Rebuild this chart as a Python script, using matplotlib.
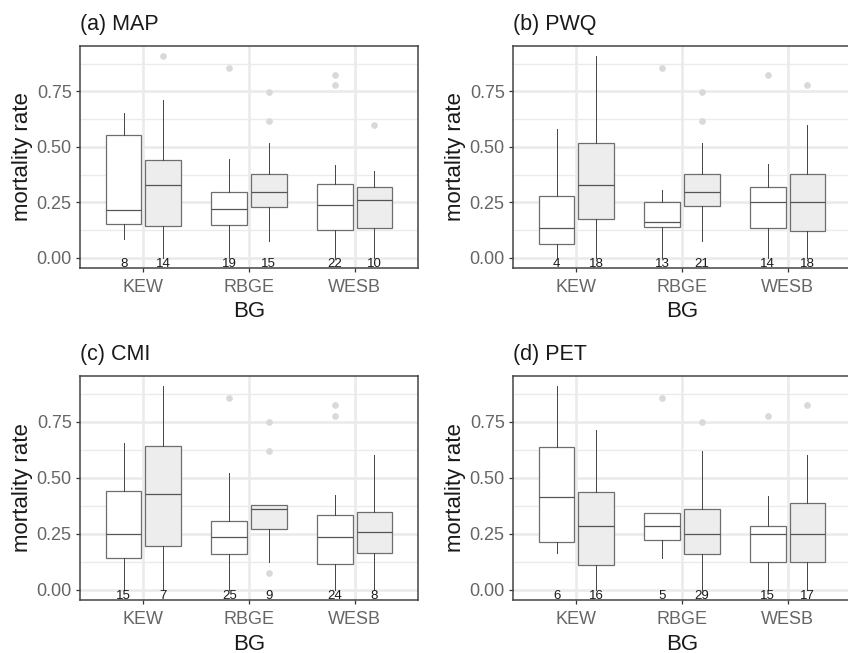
#!/usr/bin/env python3
"""
Mortality rate by botanic garden, four climate variables, boxplots.
"""

import matplotlib
matplotlib.use('Agg')
import matplotlib.pyplot as plt
from matplotlib.ticker import MultipleLocator, FixedLocator

plt.rcParams['font.family'] = ['Liberation Sans', 'DejaVu Sans']

bg_names = ['KEW', 'RBGE', 'WESB']
panel_titles = ['(a) MAP', '(b) PWQ', '(c) CMI', '(d) PET']

# five-number summaries per BG: (lower whisker, Q1, median, Q3, upper whisker)
# "white" = first group (unfilled box), "grey" = second group (filled box)
map_white = [(0.086, 0.155, 0.214, 0.554, 0.655),
             (0.000, 0.150, 0.220, 0.296, 0.445),
             (0.000, 0.124, 0.238, 0.332, 0.418)]
map_grey = [(0.000, 0.144, 0.327, 0.440, 0.713),
            (0.077, 0.229, 0.299, 0.376, 0.519),
            (0.000, 0.137, 0.260, 0.318, 0.390)]
map_white_out = [[], [0.857], [0.824, 0.778]]
map_grey_out = [[0.909], [0.749, 0.619], [0.600]]
map_white_n = [8, 19, 22]
map_grey_n = [14, 15, 10]

pwq_white = [(0.000, 0.064, 0.134, 0.281, 0.583),
             (0.000, 0.138, 0.162, 0.250, 0.307),
             (0.000, 0.134, 0.251, 0.320, 0.421)]
pwq_grey = [(0.000, 0.176, 0.329, 0.519, 0.909),
            (0.077, 0.234, 0.299, 0.378, 0.519),
            (0.000, 0.122, 0.250, 0.376, 0.601)]
pwq_white_out = [[], [0.857], [0.824]]
pwq_grey_out = [[], [0.749, 0.619], [0.778]]
pwq_white_n = [4, 13, 14]
pwq_grey_n = [18, 21, 18]

cmi_white = [(0.000, 0.143, 0.249, 0.440, 0.655),
             (0.000, 0.160, 0.234, 0.307, 0.523),
             (0.000, 0.116, 0.237, 0.332, 0.422)]
cmi_grey = [(0.000, 0.197, 0.429, 0.643, 0.909),
            (0.125, 0.271, 0.359, 0.380, 0.380),
            (0.000, 0.166, 0.259, 0.346, 0.601)]
cmi_white_out = [[], [0.857], [0.824, 0.778]]
cmi_grey_out = [[], [0.750, 0.619, 0.076], []]
cmi_white_n = [15, 25, 24]
cmi_grey_n = [7, 9, 8]

pet_white = [(0.164, 0.212, 0.416, 0.637, 0.909),
             (0.142, 0.221, 0.286, 0.343, 0.343),
             (0.000, 0.125, 0.249, 0.285, 0.417)]
pet_grey = [(0.000, 0.113, 0.285, 0.437, 0.713),
            (0.000, 0.160, 0.249, 0.359, 0.619),
            (0.000, 0.124, 0.249, 0.388, 0.601)]
pet_white_out = [[], [0.857], [0.778]]
pet_grey_out = [[], [0.750], [0.824]]
pet_white_n = [6, 5, 15]
pet_grey_n = [16, 29, 17]

GRID = '#ebebeb'
DODGE = 0.1875
BOX_W = 0.3375


def make_stats(summaries, outliers):
    stats = []
    for (lo, q1, med, q3, hi), fl in zip(summaries, outliers):
        stats.append(dict(whislo=lo, q1=q1, med=med, q3=q3, whishi=hi, fliers=fl))
    return stats


def draw_panel(ax, title, white, grey, white_out, grey_out, white_n, grey_n):
    pos = list(range(1, len(bg_names) + 1))
    for summ, outs, ns, off, fill in [(white, white_out, white_n, -DODGE, 'white'),
                                      (grey, grey_out, grey_n, DODGE, '#ededed')]:
        p = [x + off for x in pos]
        ax.bxp(make_stats(summ, outs), positions=p, widths=BOX_W,
               showcaps=False, patch_artist=True, manage_ticks=False,
               boxprops=dict(facecolor=fill, edgecolor='#6e6e6e', linewidth=0.9),
               medianprops=dict(color='#555555', linewidth=0.9),
               whiskerprops=dict(color='#444444', linewidth=0.7),
               flierprops=dict(marker='o', markersize=3.8, markerfacecolor='#d9d9d9',
                               markeredgecolor='#d9d9d9', linestyle='none'))
        for x, n in zip(p, ns):
            ax.text(x, 0.0, str(n), ha='center', va='top', fontsize=9.5, color='#1a1a1a')

    ax.set_xlim(0.4, 3.6)
    ax.set_ylim(-0.0455, 0.955)
    ax.xaxis.set_major_locator(FixedLocator(pos))
    ax.set_xticklabels(bg_names)
    ax.yaxis.set_major_locator(MultipleLocator(0.25))
    ax.yaxis.set_minor_locator(FixedLocator([0.125, 0.375, 0.625, 0.875]))
    ax.yaxis.set_major_formatter(plt.FuncFormatter(lambda v, _: f'{v:.2f}'))
    ax.grid(which='major', axis='both', color=GRID, linewidth=1.9)
    ax.grid(which='minor', axis='y', color=GRID, linewidth=1.0)
    ax.set_axisbelow(True)
    ax.tick_params(axis='both', which='major', length=3, width=0.9, color='#333333',
                   labelsize=13, labelcolor='#666666', pad=3)
    ax.tick_params(axis='x', which='major', pad=5)
    ax.tick_params(axis='y', which='minor', length=0)
    for s in ax.spines.values():
        s.set_color('#444444')
        s.set_linewidth(1.1)
    ax.set_xlabel('BG', fontsize=16, color='#1a1a1a')
    ax.set_ylabel('mortality rate', fontsize=16, color='#1a1a1a')
    ax.xaxis.set_label_coords(0.5, -0.15)
    ax.yaxis.set_label_coords(-0.14, 0.5)
    ax.text(0.0, 1.0 + 16 / 222, title, transform=ax.transAxes, fontsize=15.5,
            ha='left', va='baseline', color='#1a1a1a')


fig = plt.figure(figsize=(8.48, 6.53), dpi=100)
W, H = 848.0, 653.0
boxes = [(80, 46, 268), (513, 46, 268), (80, 376, 600), (513, 376, 600)]
axes = []
for left, top, bottom in boxes:
    axes.append(fig.add_axes([left / W, 1 - bottom / H, 338 / W, (bottom - top) / H]))

draw_panel(axes[0], panel_titles[0], map_white, map_grey, map_white_out, map_grey_out,
           map_white_n, map_grey_n)
draw_panel(axes[1], panel_titles[1], pwq_white, pwq_grey, pwq_white_out, pwq_grey_out,
           pwq_white_n, pwq_grey_n)
draw_panel(axes[2], panel_titles[2], cmi_white, cmi_grey, cmi_white_out, cmi_grey_out,
           cmi_white_n, cmi_grey_n)
draw_panel(axes[3], panel_titles[3], pet_white, pet_grey, pet_white_out, pet_grey_out,
           pet_white_n, pet_grey_n)

fig.savefig('out.png', dpi=100)
plt.close(fig)
